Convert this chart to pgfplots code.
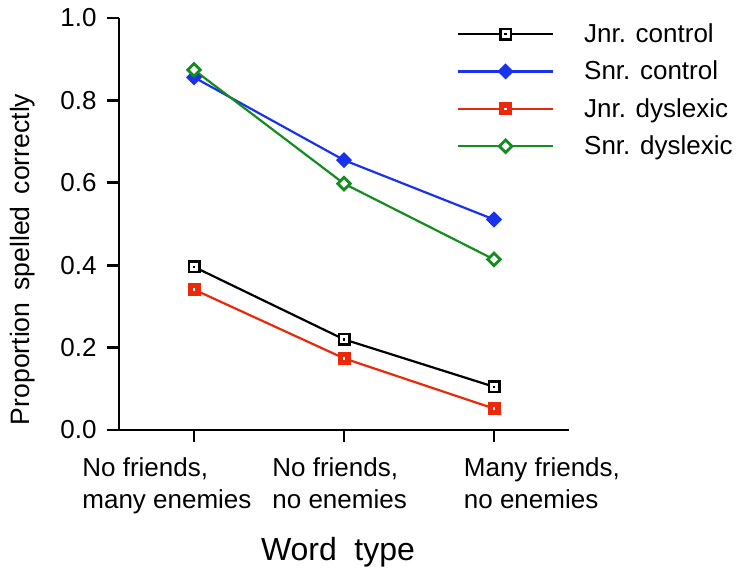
\documentclass[border=0pt]{standalone}
\usepackage{fontspec}
\setmainfont{Liberation Sans}
\usepackage{pgfplots}
\pgfplotsset{compat=1.18}
\definecolor{cblue}{RGB}{25,50,235}
\definecolor{cred}{RGB}{235,40,10}
\definecolor{cgreen}{RGB}{20,140,30}
\pgfdeclareplotmark{sqdotk}{%
  \pgfpathrectangle{\pgfqpoint{-\pgfplotmarksize}{-\pgfplotmarksize}}{\pgfqpoint{2\pgfplotmarksize}{2\pgfplotmarksize}}%
  \pgfusepathqfillstroke
  \pgfscope\pgfsetfillcolor{black}%
  \pgfpathrectangle{\pgfqpoint{-0.6pt}{-0.6pt}}{\pgfqpoint{1.2pt}{1.2pt}}%
  \pgfusepathqfill\endpgfscope}
\pgfdeclareplotmark{sqdotw}{%
  \pgfpathrectangle{\pgfqpoint{-\pgfplotmarksize}{-\pgfplotmarksize}}{\pgfqpoint{2\pgfplotmarksize}{2\pgfplotmarksize}}%
  \pgfusepathqfillstroke
  \pgfscope\pgfsetfillcolor{white}%
  \pgfpathrectangle{\pgfqpoint{-0.6pt}{-0.6pt}}{\pgfqpoint{1.2pt}{1.2pt}}%
  \pgfusepathqfill\endpgfscope}
\begin{document}
\begin{tikzpicture}
\useasboundingbox (-59.5pt,-69.5pt) rectangle (309.5pt,215pt);
\begin{axis}[
  at={(0pt,0pt)}, anchor=south west,
  scale only axis, width=225pt, height=206pt,
  xmin=-0.5, xmax=2.5, ymin=0, ymax=1,
  clip=false,
  axis x line*=bottom, axis y line*=left,
  axis line style={-, line width=1.4pt, black},
  tick align=outside, major tick length=6pt,
  every tick/.style={line width=1.4pt, black},
  xtick={0,1,2},
  xticklabels={{No friends,\\many enemies},{\hspace*{20pt}No friends,\\\hspace*{20pt}no enemies},{\hspace*{40.75pt}Many friends,\\\hspace*{40.75pt}no enemies}},
  xticklabel style={anchor=north west, align=left, inner sep=0pt, xshift=-56pt, yshift=-7.5pt, font=\fontsize{13}{16}\selectfont},
  ytick={0,0.2,0.4,0.6,0.8,1.0},
  yticklabel style={anchor=east, inner sep=0pt, xshift=-5pt, font=\fontsize{13}{16}\selectfont,
    /pgf/number format/.cd, fixed, fixed zerofill, precision=1},
  /pgf/number format/assume math mode=true,
  xlabel={Word\hspace{0.55em}type},
  xlabel style={font=\fontsize{16}{19}\selectfont, at={(axis description cs:0.4867,-0.3155)}, anchor=base, inner sep=0pt},
  ylabel={Proportion\hspace{0.45em}spelled\hspace{0.45em}correctly},
  ylabel style={font=\fontsize{13.3}{16}\selectfont, at={(axis description cs:-0.2133,0.414)}, anchor=center, inner sep=0pt},
  legend style={at={(0.7511,0.989)}, anchor=north west, draw=none, fill=none,
    inner sep=0pt, outer sep=0pt, row sep=7.2pt, column sep=15pt,
    font=\fontsize{13}{16}\selectfont, nodes={inner sep=0pt},
    /tikz/every even column/.append style={text height=10pt, text depth=3pt}},
  legend cell align=left,
  legend image code/.code={\draw[mark repeat=2,mark phase=2] plot coordinates {(0pt,0pt)(23.75pt,0pt)(47.5pt,0pt)};},
]
\addplot[black, line width=1.1pt, mark=sqdotk, mark size=2.6pt, mark options={solid, fill=white, draw=black, line width=1.3pt}]
  coordinates {(0,0.396)(1,0.220)(2,0.105)};
\addlegendentry{Jnr. control}
\addplot[cblue, line width=1.1pt, mark=square*, mark size=2.2pt, mark options={solid, rotate=45, fill=cblue, draw=cblue, line width=1.3pt}]
  coordinates {(0,0.856)(1,0.655)(2,0.511)};
\addlegendentry{Snr. control}
\addplot[cred, line width=1.1pt, mark=sqdotw, mark size=2.6pt, mark options={solid, fill=cred, draw=cred, line width=1.3pt}]
  coordinates {(0,0.341)(1,0.174)(2,0.052)};
\addlegendentry{Jnr. dyslexic}
\addplot[cgreen, line width=1.1pt, mark=square*, mark size=2.2pt, mark options={solid, rotate=45, fill=white, draw=cgreen, line width=1.4pt}]
  coordinates {(0,0.874)(1,0.598)(2,0.414)};
\addlegendentry{Snr. dyslexic}
\end{axis}
\end{tikzpicture}
\end{document}
